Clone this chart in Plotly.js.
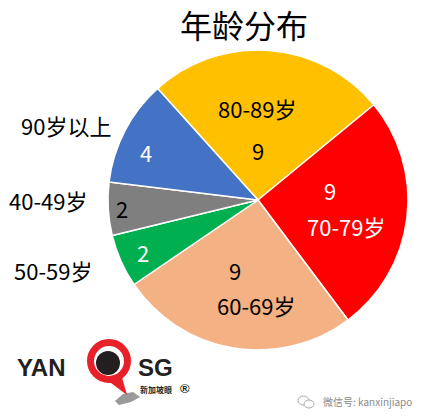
<!DOCTYPE html>
<html>
<head>
<meta charset="utf-8">
<script src="https://cdn.plot.ly/plotly-3.0.1.min.js"></script>
<style>
  html, body { margin: 0; padding: 0; background: #fff; }
  #chart { width: 425px; height: 419px; }
</style>
</head>
<body>
<div id="chart"></div>
<script>
// Age groups and head counts
const categories = ['80-89岁', '70-79岁', '60-69岁', '50-59岁', '40-49岁', '90岁以上'];
const counts = [9, 9, 9, 2, 2, 4];
const sliceColors = ['#FFC000', '#FF0000', '#F4B183', '#00B050', '#7F7F7F', '#4472C4'];
const valueColors = ['#000', '#fff', '#000', '#fff', '#000', '#fff'];
const chartTitle = '年龄分布';

const W = 425, H = 419;
const FONT = '"Noto Sans CJK SC", "Noto Sans", sans-serif';
const px = x => x / W;
const py = y => 1 - y / H;

// Label placement (pixel positions within the page)
const valuePos = [[258, 150], [330, 190], [235, 270], [143, 252], [122, 208], [146, 152]];
const namePos = [[257, 108], [346, 226], [256, 305], [53, 270], [48, 200], [66, 125]];
const nameColors = ['#000', '#fff', '#000', '#000', '#000', '#000'];

const annotations = [];
categories.forEach((c, i) => {
  annotations.push({
    x: px(valuePos[i][0]), y: py(valuePos[i][1]), xref: 'paper', yref: 'paper',
    text: String(counts[i]), showarrow: false, xanchor: 'center', yanchor: 'middle',
    font: { family: FONT, size: 22, color: valueColors[i] }
  });
  annotations.push({
    x: px(namePos[i][0]), y: py(namePos[i][1]), xref: 'paper', yref: 'paper',
    text: c, showarrow: false, xanchor: 'center', yanchor: 'middle',
    font: { family: FONT, size: 22, color: nameColors[i] }
  });
});

// Brand mark and account line at the bottom
const LOGO_FONT = '"Liberation Sans", Arial, sans-serif';
annotations.push(
  { x: px(15), y: py(367), xref: 'paper', yref: 'paper', text: '<b>YAN</b>', showarrow: false,
    xanchor: 'left', yanchor: 'middle', font: { family: LOGO_FONT, size: 24, color: '#231F20' } },
  { x: px(136), y: py(367), xref: 'paper', yref: 'paper', text: '<b>SG</b>', showarrow: false,
    xanchor: 'left', yanchor: 'middle', font: { family: LOGO_FONT, size: 24, color: '#231F20' } },
  { x: px(138), y: py(389), xref: 'paper', yref: 'paper', text: '<b>新加坡眼</b>', showarrow: false,
    xanchor: 'left', yanchor: 'middle', font: { family: FONT, size: 8, color: '#231F20' } },
  { x: px(178), y: py(388), xref: 'paper', yref: 'paper', text: '<b>®</b>', showarrow: false,
    xanchor: 'left', yanchor: 'middle', font: { family: LOGO_FONT, size: 13, color: '#231F20' } },
  { x: px(321), y: py(401), xref: 'paper', yref: 'paper', text: '微信号: kanxinjiapo', showarrow: false,
    xanchor: 'left', yanchor: 'middle', font: { family: FONT, size: 10, color: '#8a8a8a' } }
);

const shapes = [
  // island silhouette
  { type: 'path', xref: 'paper', yref: 'paper',
    path: `M ${px(115)},${py(401)} L ${px(123)},${py(394)} L ${px(133)},${py(392)} L ${px(140)},${py(397)} L ${px(131)},${py(402)} L ${px(119)},${py(405)} Z`,
    fillcolor: '#9a9a9a', line: { width: 0 } },
  // pin tail
  { type: 'path', xref: 'paper', yref: 'paper',
    path: `M ${px(103)},${py(377)} L ${px(127)},${py(395)} L ${px(121)},${py(374)} Z`,
    fillcolor: '#E8202A', line: { width: 0 } },
  // red ring
  { type: 'circle', xref: 'paper', yref: 'paper',
    x0: px(90.5), x1: px(127.5), y0: py(379.5), y1: py(342.5),
    fillcolor: '#fff', line: { color: '#E8202A', width: 7 } },
  // inner dark disc
  { type: 'circle', xref: 'paper', yref: 'paper',
    x0: px(96), x1: px(120), y0: py(375), y1: py(351),
    fillcolor: '#231F20', line: { width: 0 } },
  // chat icon bubbles
  { type: 'circle', xref: 'paper', yref: 'paper',
    x0: px(298), x1: px(309), y0: py(405), y1: py(396),
    fillcolor: 'rgba(0,0,0,0)', line: { color: '#aaa', width: 1 } },
  { type: 'circle', xref: 'paper', yref: 'paper',
    x0: px(304), x1: px(314), y0: py(408), y1: py(400),
    fillcolor: '#fff', line: { color: '#aaa', width: 1 } }
];

const data = [{
  type: 'pie',
  labels: categories,
  values: counts,
  sort: false,
  direction: 'clockwise',
  rotation: -42,
  marker: { colors: sliceColors, line: { color: '#ffffff', width: 1.5 } },
  textinfo: 'none',
  hoverinfo: 'label+value',
  showlegend: false,
  domain: { x: [px(108), px(408)], y: [py(350), py(50)] }
}];

const layout = {
  width: W, height: H,
  margin: { l: 0, r: 0, t: 0, b: 0 },
  paper_bgcolor: '#fff',
  title: { text: chartTitle, x: px(244), xanchor: 'center', y: py(27), yanchor: 'middle',
           font: { family: FONT, size: 32, color: '#000' } },
  annotations: annotations,
  shapes: shapes
};

Plotly.newPlot('chart', data, layout, { displayModeBar: false, staticPlot: true });
</script>
</body>
</html>
